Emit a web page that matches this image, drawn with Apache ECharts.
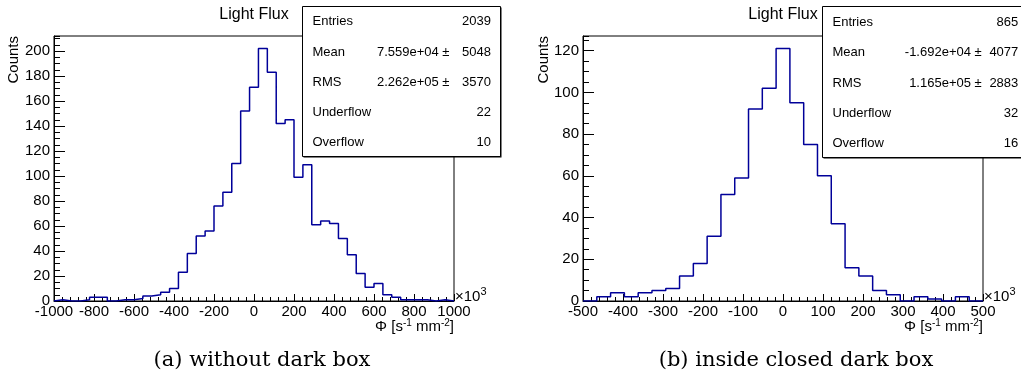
<!DOCTYPE html>
<html>
<head>
<meta charset="utf-8">
<script src="https://cdn.jsdelivr.net/npm/echarts@6/dist/echarts.min.js"></script>
<style>
  html, body { margin: 0; padding: 0; background: #fff; }
  #chart { width: 1021px; height: 389px; }
</style>
</head>
<body>
<div id="chart"></div>
<script>
// Light flux histograms; x in units of 10^3 s^-1 mm^-2, y = counts per bin.

// (a) without dark box: 45 bins from -1000 to 1000
const openRange = [-1000, 1000];
const openCounts = [
  1, 0, 0, 1, 3, 3, 0, 1, 1, 2, 4, 5, 7, 10,
  23, 38, 52, 56, 76, 87, 110, 152, 171, 202, 183, 142, 145, 99, 109,
  61, 64, 62, 50, 37, 22, 11, 14, 5, 3, 1, 1, 1, 0, 1, 0
];

// (b) inside closed dark box: 29 bins from -500 to 500
const closedRange = [-500, 500];
const closedCounts = [
  0, 2, 4, 2, 4, 5, 6, 12, 18, 31, 51, 59, 92, 102, 121,
  95, 75, 60, 37, 16, 12, 5, 3, 0, 2, 1, 0, 2, 0
];

// major tick spacing on the x axes, counts axis
const openXInterval = 200;
const closedXInterval = 100;
const countsInterval = 20;

// statistics boxes
const statLabels = ['Entries', 'Mean', 'RMS', 'Underflow', 'Overflow'];
const openStatMid = ['', '7.559e+04 \u00b1', '2.262e+05 \u00b1', '', ''];
const openStatRight = ['2039', '5048', '3570', '22', '10'];
const closedStatMid = ['', '-1.692e+04 \u00b1', '1.165e+05 \u00b1', '', ''];
const closedStatRight = ['865', '4077', '2883', '32', '16'];

const histTitle = 'Light Flux';
const yTitle = 'Counts';
const captions = ['(a) without dark box', '(b) inside closed dark box'];

const SANS = '"Liberation Sans", Arial, sans-serif';
const SERIF = '"DejaVu Serif", serif';
const LINE = '#000099';

// outline of a histogram as step points (left bin edges, closed to the baseline)
function stepPoints(counts, range) {
  const lo = range[0], hi = range[1];
  const w = (hi - lo) / counts.length;
  const pts = [[lo, 0]];
  counts.forEach((c, i) => pts.push([lo + i * w, c]));
  pts.push([hi, counts[counts.length - 1]]);
  pts.push([hi, 0]);
  return pts;
}

const panels = [
  {
    counts: openCounts, range: openRange, xInterval: openXInterval,
    mid: openStatMid, right: openStatRight, caption: captions[0],
    grid: { left: 54, top: 36, width: 400, height: 265 },
    box: { x: 302.5, y: 6.5, w: 198, h: 150, mid: 449.5, val: 491, row0: 21.7, rowStep: 30.3 },
    countsX: 14, captionX: 262
  },
  {
    counts: closedCounts, range: closedRange, xInterval: closedXInterval,
    mid: closedStatMid, right: closedStatRight, caption: captions[1],
    grid: { left: 583, top: 36, width: 400, height: 265 },
    box: { x: 822.5, y: 6.5, w: 220, h: 151, mid: 981.7, val: 1018.3, row0: 22.5, rowStep: 30.3 },
    countsX: 544, captionX: 796
  }
];

const grids = [], xAxes = [], yAxes = [], series = [], graphics = [];
const plain = v => String(v);

panels.forEach((p, i) => {
  const g = p.grid;
  grids.push(Object.assign({ show: true, borderColor: '#000', borderWidth: 1, backgroundColor: 'transparent' }, g));

  const labelStyle = { color: '#000', fontFamily: SANS, fontSize: 15, formatter: plain };
  xAxes.push({
    gridIndex: i, type: 'value', min: p.range[0], max: p.range[1], interval: p.xInterval,
    axisLine: { show: true, onZero: false, lineStyle: { color: '#000', width: 1 } },
    axisTick: { show: true, inside: true, length: 7, lineStyle: { color: '#000', width: 1 } },
    minorTick: { show: true, splitNumber: 5, length: 4, lineStyle: { color: '#000', width: 1 } },
    axisLabel: Object.assign({ margin: 3 }, labelStyle),
    splitLine: { show: false }
  });

  const ymax = Math.max(...p.counts) * 1.05;
  yAxes.push({
    gridIndex: i, type: 'value', position: 'left', min: 0, max: ymax, interval: countsInterval,
    axisLine: { show: true, onZero: false, lineStyle: { color: '#000', width: 1 } },
    axisTick: { show: true, inside: true, length: 11, lineStyle: { color: '#000', width: 1 } },
    axisLabel: Object.assign({ margin: 4, showMaxLabel: false }, labelStyle),
    splitLine: { show: false }
  });
  yAxes.push({
    gridIndex: i, type: 'value', position: 'left', min: 0, max: ymax, interval: countsInterval / 4,
    axisLine: { show: false, onZero: false },
    axisTick: { show: true, inside: true, length: 6, lineStyle: { color: '#000', width: 1 } },
    axisLabel: { show: false },
    splitLine: { show: false }
  });

  series.push({
    type: 'line', xAxisIndex: i, yAxisIndex: i * 2, step: 'end',
    showSymbol: false, symbol: 'none', animation: false,
    lineStyle: { color: LINE, width: 1.5 },
    data: stepPoints(p.counts, p.range)
  });

  const right = g.left + g.width, bottom = g.top + g.height;

  // histogram title
  graphics.push({ type: 'text', x: g.left + g.width / 2, y: 15,
    style: { text: histTitle, fill: '#000', font: '16px ' + SANS, align: 'center', verticalAlign: 'middle' } });

  // y axis title, reading upward, ending at the top of the frame
  graphics.push({ type: 'text', x: p.countsX, y: g.top, rotation: Math.PI / 2,
    style: { text: yTitle, fill: '#000', font: '15px ' + SANS, align: 'right', verticalAlign: 'middle' } });

  // x axis exponent and title
  graphics.push({ type: 'text', x: right + 1, y: bottom - 4,
    style: { text: '\u00d710{s|3}', fill: '#000', font: '15px ' + SANS, align: 'left', verticalAlign: 'middle',
      rich: { s: { fontSize: 11, fontFamily: SANS, fill: '#000', verticalAlign: 'top', padding: [0, 0, 10, 0] } } } });
  graphics.push({ type: 'text', x: right, y: bottom + 26,
    style: { text: '\u03a6 [s{s|-1} mm{s|-2}]', fill: '#000', font: '15px ' + SANS, align: 'right', verticalAlign: 'middle',
      rich: { s: { fontSize: 10, fontFamily: SANS, fill: '#000', padding: [0, 0, 8, 0] } } } });

  // statistics box with shadow
  const b = p.box;
  graphics.push({ type: 'rect', shape: { x: b.x + 1, y: b.y + 1, width: b.w, height: b.h },
    style: { fill: '#000' }, z: 100 });
  graphics.push({ type: 'rect', shape: { x: b.x, y: b.y, width: b.w, height: b.h },
    style: { fill: '#fff', stroke: '#000', lineWidth: 1 }, z: 101 });
  statLabels.forEach((lab, r) => {
    const y = b.row0 + r * b.rowStep;
    graphics.push({ type: 'text', x: b.x + 10, y: y, z: 102,
      style: { text: lab, fill: '#000', font: '13px ' + SANS, align: 'left', verticalAlign: 'middle' } });
    if (p.mid[r]) {
      graphics.push({ type: 'text', x: b.mid, y: y, z: 102,
        style: { text: p.mid[r], fill: '#000', font: '13px ' + SANS, align: 'right', verticalAlign: 'middle' } });
    }
    graphics.push({ type: 'text', x: b.val, y: y, z: 102,
      style: { text: p.right[r], fill: '#000', font: '13px ' + SANS, align: 'right', verticalAlign: 'middle' } });
  });

  // sub-figure caption
  graphics.push({ type: 'text', x: p.captionX, y: 361,
    style: { text: p.caption, fill: '#000', font: '21px ' + SERIF, align: 'center', verticalAlign: 'middle' } });
});

const chart = echarts.init(document.getElementById('chart'), null, { renderer: 'canvas' });
chart.setOption({
  animation: false,
  backgroundColor: '#fff',
  grid: grids,
  xAxis: xAxes,
  yAxis: yAxes,
  series: series,
  graphic: graphics
});
</script>
</body>
</html>
